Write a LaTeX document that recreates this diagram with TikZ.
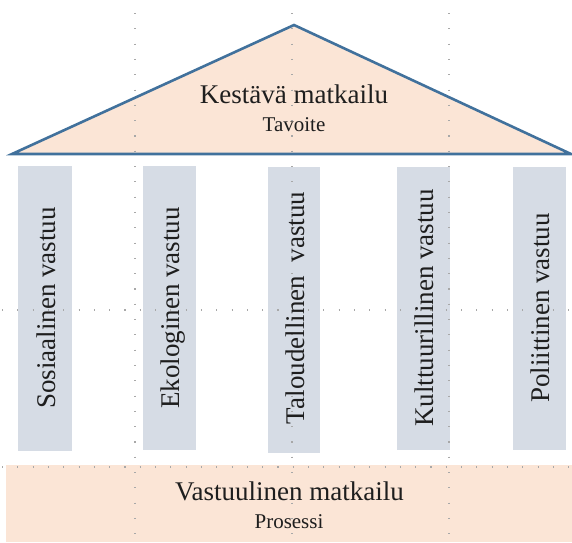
\documentclass[tikz,border=0pt]{standalone}
\usepackage{fontspec}
\setmainfont{Liberation Serif}
\definecolor{roofstroke}{HTML}{41719C}
\definecolor{peach}{HTML}{FBE5D6}
\definecolor{pillarfill}{HTML}{D6DCE5}
\definecolor{txt}{HTML}{1E1E1E}
\definecolor{guidecol}{HTML}{A8A8A8}
\tikzset{
  pillarbox/.style={fill=pillarfill, draw=none},
  pillartext/.style={rotate=90, anchor=base, inner sep=0pt, text=txt,
    font=\fontsize{27}{30}\selectfont},
  bigtext/.style={anchor=base, inner sep=0pt, text=txt, font=\fontsize{27}{30}\selectfont},
  smalltext/.style={anchor=base, inner sep=0pt, text=txt, font=\fontsize{21}{24}\selectfont},
  guide/.style={draw=guidecol, line width=1.1pt, dash pattern=on 1.1pt off 14.2pt},
}
\begin{document}
\begin{tikzpicture}[x=1pt,y=-1pt]
\useasboundingbox (0,0) rectangle (572,542);
% bottom base
\fill[peach] (6,465) rectangle (572,542);
% roof
\coordinate (roofL) at (12,154);
\coordinate (roofT) at (294,25);
\coordinate (roofR) at (571,154);
\filldraw[fill=peach, draw=roofstroke, line width=2.6pt] (roofL) -- (roofT) -- (roofR) -- cycle;
% pillars
\fill[pillarbox] (18,166) rectangle (72,451);
\fill[pillarbox] (143,166) rectangle (196,450);
\fill[pillarbox] (268,167) rectangle (320,453);
\fill[pillarbox] (397,167) rectangle (450,450);
\fill[pillarbox] (513,167) rectangle (566,450);
% guides
\draw[guide] (135,13) -- (135,542);
\draw[guide] (292,13) -- (292,542);
\draw[guide] (449,13) -- (449,542);
\draw[guide] (2,310) -- (572,310);
\draw[guide] (2,467) -- (572,467);
% texts
\node[bigtext] (goal) at (294,103) {Kestävä matkailu};
\node[smalltext] (goalsub) at (294,131) {Tavoite};
\node[pillartext] (p1) at (55,308) {Sosiaalinen vastuu};
\node[pillartext] (p2) at (179.5,308) {Ekologinen vastuu};
\node[pillartext] (p3) at (304,308) {Taloudellinen\ \ vastuu};
\node[pillartext] (p4) at (433.5,308) {Kulttuurillinen vastuu};
\node[pillartext] (p5) at (549.5,308) {Poliittinen vastuu};
\node[bigtext] (proc) at (289.5,500) {Vastuulinen matkailu};
\node[smalltext] (procsub) at (289,528) {Prosessi};
\end{tikzpicture}
\end{document}
